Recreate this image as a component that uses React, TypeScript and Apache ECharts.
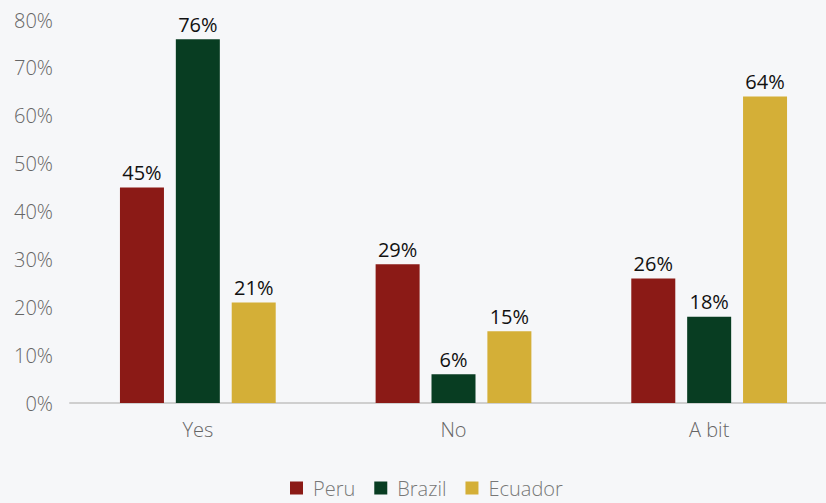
import React, { useEffect, useRef } from "react";
import * as echarts from "echarts";

const categories = ["Yes", "No", "A bit"];
const peru = [45, 29, 26];
const brazil = [76, 6, 18];
const ecuador = [21, 15, 64];
const yTicks = [0, 10, 20, 30, 40, 50, 60, 70, 80];

const FONT = "'Open Sans', Lato, sans-serif";

export default function App() {
  const ref = useRef<HTMLDivElement>(null);
  useEffect(() => {
    if (!ref.current) return;
    const chart = echarts.init(ref.current, undefined, { renderer: "svg" });
    const label = {
      show: true,
      position: "top" as const,
      distance: 5,
      formatter: "{c}%",
      color: "#111",
      fontSize: 20,
      fontFamily: FONT,
    };
    chart.setOption({
      animation: false,
      backgroundColor: "#f6f7f9",
      textStyle: { fontFamily: FONT },
      grid: { left: 70, top: 20, bottom: 100, right: -11, outerBoundsMode: "none", containLabel: false },
      legend: {
        left: 290,
        top: 478,
        padding: 0,
        itemWidth: 13,
        itemHeight: 13,
        itemGap: 19,
        icon: "rect",
        textStyle: { color: "#777", fontSize: 20, lineHeight: 20, fontWeight: 300, fontFamily: FONT, padding: [0, 0, 0, 5] },
        data: ["Peru", "Brazil", "Ecuador"],
      },
      xAxis: {
        type: "category",
        data: categories,
        axisLine: { show: true, lineStyle: { color: "#cfcfcf", width: 2 } },
        axisTick: { show: false },
        axisLabel: { color: "#666", fontSize: 20, fontWeight: 300, margin: 16, fontFamily: FONT },
      },
      yAxis: {
        type: "value",
        min: 0,
        max: 80,
        interval: 10,
        splitLine: { show: false },
        axisLine: { show: false },
        axisTick: { show: false },
        axisLabel: {
          color: "#666",
          fontSize: 20,
          fontWeight: 300,
          margin: 17,
          fontFamily: FONT,
          formatter: (v: number) => (yTicks.includes(v) ? v + "%" : ""),
        },
      },
      series: [
        { name: "Peru", type: "bar", data: peru, barWidth: 44, barGap: "27%", itemStyle: { color: "#8b1a16" }, label },
        { name: "Brazil", type: "bar", data: brazil, barWidth: 44, barGap: "27%", itemStyle: { color: "#083d22" }, label },
        { name: "Ecuador", type: "bar", data: ecuador, barWidth: 44, barGap: "27%", itemStyle: { color: "#d4af37" }, label },
      ],
    });
    return () => chart.dispose();
  }, []);
  return <div ref={ref} style={{ width: 826, height: 503, position: "absolute", left: 0, top: 0 }} />;
}
